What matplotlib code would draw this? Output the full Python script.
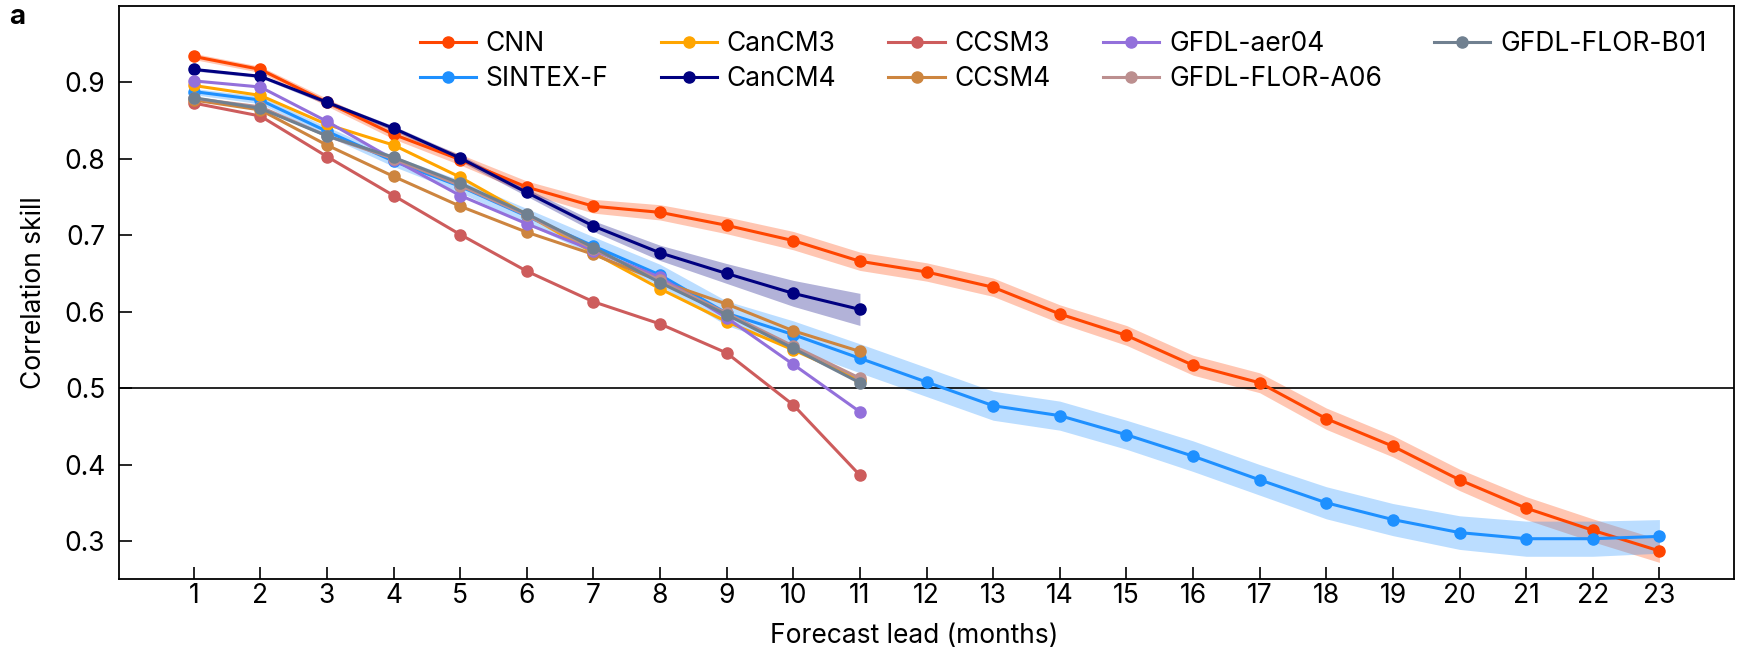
import numpy as np
import matplotlib
matplotlib.use("Agg")
from matplotlib import pyplot as plt

# forecast lead in months
leads = list(range(1, 24))
leads_dyn = list(range(1, 12))

# correlation skill of the CNN and the dynamical forecast systems
cnn = [0.934, 0.917, 0.874, 0.832, 0.799, 0.763, 0.738, 0.730, 0.713, 0.693,
       0.666, 0.652, 0.632, 0.597, 0.569, 0.530, 0.507, 0.460, 0.424, 0.380,
       0.343, 0.314, 0.287]
sintex = [0.888, 0.877, 0.836, 0.797, 0.764, 0.725, 0.686, 0.648, 0.598, 0.570,
          0.539, 0.508, 0.477, 0.464, 0.439, 0.411, 0.380, 0.350, 0.328, 0.311,
          0.303, 0.303, 0.306]
cancm3 = [0.896, 0.883, 0.845, 0.818, 0.776, 0.727, 0.677, 0.630, 0.587, 0.550, 0.511]
cancm4 = [0.917, 0.908, 0.874, 0.840, 0.801, 0.756, 0.712, 0.677, 0.650, 0.624, 0.603]
ccsm3 = [0.873, 0.856, 0.803, 0.752, 0.701, 0.653, 0.613, 0.584, 0.546, 0.478, 0.386]
ccsm4 = [0.877, 0.864, 0.818, 0.777, 0.738, 0.704, 0.675, 0.640, 0.610, 0.575, 0.548]
aer04 = [0.902, 0.894, 0.849, 0.799, 0.752, 0.715, 0.680, 0.645, 0.592, 0.531, 0.469]
flor_a06 = [0.879, 0.868, 0.830, 0.800, 0.765, 0.726, 0.682, 0.641, 0.598, 0.555, 0.513]
flor_b01 = [0.880, 0.866, 0.830, 0.802, 0.768, 0.728, 0.684, 0.638, 0.596, 0.552, 0.507]

# spread (half width) of the shaded ranges
cnn_spread = [0.004, 0.004, 0.005, 0.006, 0.007, 0.008, 0.009, 0.010, 0.011, 0.012,
              0.012, 0.012, 0.012, 0.012, 0.013, 0.013, 0.013, 0.014, 0.014, 0.014,
              0.015, 0.015, 0.015]
sintex_spread = [0.004, 0.005, 0.006, 0.007, 0.008, 0.010, 0.012, 0.014, 0.016, 0.018,
                 0.019, 0.019, 0.019, 0.019, 0.019, 0.020, 0.020, 0.021, 0.021, 0.022,
                 0.023, 0.023, 0.022]
cancm4_spread = [0.002, 0.002, 0.003, 0.003, 0.004, 0.005, 0.007, 0.010, 0.013, 0.017, 0.021]

plt.rcParams["font.family"] = ["Inter", "Liberation Sans", "DejaVu Sans"]

fig = plt.figure(figsize=(17.41, 6.65), dpi=100)
ax = fig.add_axes([0.0684, 0.129, 0.9276, 0.862])


def band(x, y, s, color, alpha):
    y = np.asarray(y)
    s = np.asarray(s)
    ax.fill_between(x, y - s, y + s, color=color, alpha=alpha, lw=0, zorder=1)


band(leads, cnn, cnn_spread, "#ff4500", 0.3)
band(leads, sintex, sintex_spread, "#1e90ff", 0.3)
band(leads_dyn, cancm4, cancm4_spread, "#000080", 0.3)

series = [
    ("CNN", leads, cnn, "#ff4500"),
    ("SINTEX-F", leads, sintex, "#1e90ff"),
    ("CanCM3", leads_dyn, cancm3, "#ffa500"),
    ("CanCM4", leads_dyn, cancm4, "#000080"),
    ("CCSM3", leads_dyn, ccsm3, "#cd5c5c"),
    ("CCSM4", leads_dyn, ccsm4, "#cd853f"),
    ("GFDL-aer04", leads_dyn, aer04, "#9370db"),
    ("GFDL-FLOR-A06", leads_dyn, flor_a06, "#bc8f8f"),
    ("GFDL-FLOR-B01", leads_dyn, flor_b01, "#708090"),
]
for name, x, y, c in series:
    ax.plot(x, y, "-o", color=c, lw=2.2, ms=8, label=name, zorder=3)

ax.axhline(0.5, color="black", lw=1.2, zorder=2)

ax.set_xlim(-0.12, 24.12)
ax.set_ylim(0.25, 1.0)
ax.set_xticks(leads)
ax.set_yticks([0.3, 0.4, 0.5, 0.6, 0.7, 0.8, 0.9])
ax.tick_params(direction="in", length=9, width=1.2, labelsize=19)
ax.tick_params(axis="x", pad=3)
ax.tick_params(axis="y", pad=10)
for sp in ax.spines.values():
    sp.set_linewidth(1.3)

ax.set_xlabel("Forecast lead (months)", fontsize=19)
ax.xaxis.set_label_coords(0.4925, -0.077)
ax.set_ylabel("Correlation skill", fontsize=19, labelpad=12)

ax.legend(ncol=5, loc="upper right", bbox_to_anchor=(0.983, 0.956), frameon=False,
          fontsize=19, handlelength=2.13, handletextpad=0.38, columnspacing=1.97,
          labelspacing=0.35, borderpad=0, borderaxespad=0)

fig.text(0.005, 0.975, "a", fontsize=20, fontweight="bold", va="center", ha="left")

fig.savefig("out.png", dpi=100)
